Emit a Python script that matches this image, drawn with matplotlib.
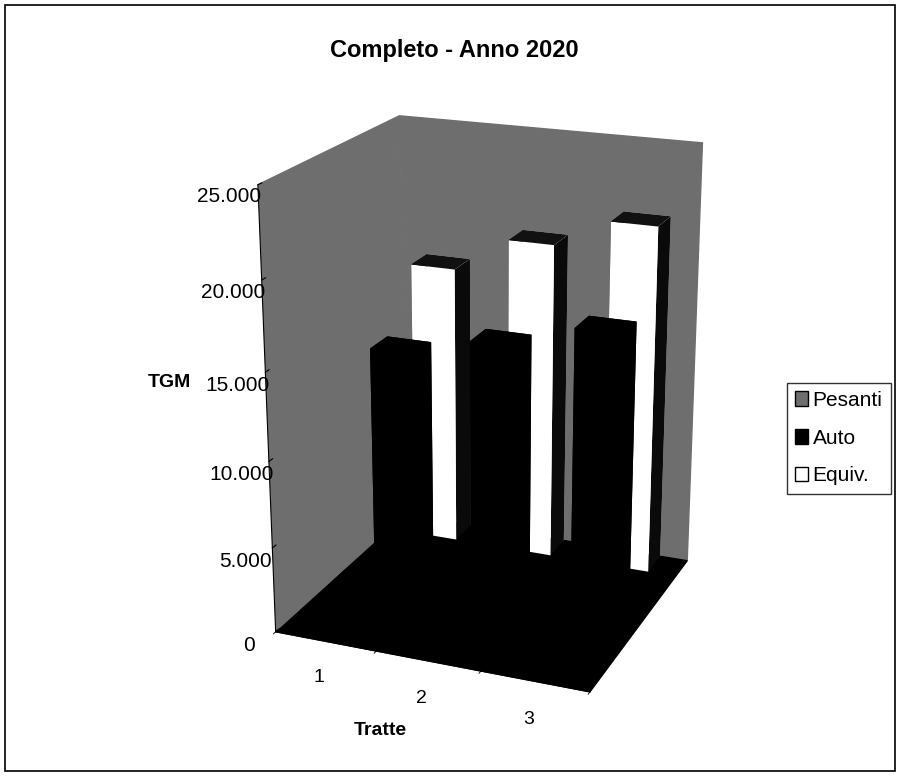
import matplotlib
matplotlib.use("Agg")
import matplotlib.pyplot as plt
import numpy as np
from matplotlib.patches import Rectangle, Patch
from matplotlib.ticker import FuncFormatter

categories = ["1", "2", "3"]
series = ["Pesanti", "Auto", "Equiv."]
pesanti = [1700, 2100, 2200]
auto = [13600, 14800, 16300]
equiv = [16900, 19000, 20700]
yticks = [0, 5000, 10000, 15000, 20000, 25000]

wall_color = "#6e6e6e"
plt.rcParams['font.family'] = ['Liberation Sans', 'DejaVu Sans']

fig = plt.figure(figsize=(9, 7.76), dpi=100)
ax = fig.add_axes([0.184, 0.05, 0.70, 0.88], projection='3d')
ax.set_proj_type('persp', focal_length=0.6)
ax.view_init(elev=20, azim=-68)
ax.set_box_aspect((1.0, 0.95, 1.38), zoom=1.0)

values = [pesanti, auto, equiv]
bwx, bwy = 0.45, 0.4
face_sets = {
    "Pesanti": ["#000000"] * 6,
    "Auto": ["#000000"] * 6,
    "Equiv.": ["#000000", "#111111", "#ffffff", "#ffffff", "#000000", "#0a0a0a"],
}
for si, (name, vals) in enumerate(zip(series, values)):
    for ci, v in enumerate(vals):
        ax.bar3d(ci + 0.5 - bwx / 2, si + 0.8 - bwy / 2, 0, bwx, bwy, v,
                 color=face_sets[name], shade=False, edgecolor='none')

ax.set_xlim(0, 3)
ax.set_ylim(0, 3)
ax.set_zlim(0, 25000)
ax.set_xticks([0.5, 1.5, 2.5])
ax.set_xticklabels(categories)
ax.set_xticks([0, 1, 2, 3], minor=True)
ax.tick_params(axis='x', which='major', labelsize=14, color=(0, 0, 0, 0), pad=4)
ax.tick_params(axis='x', which='minor', color='black')
ax.set_yticks([])
ax.set_zticks(yticks)
ax.zaxis.set_major_formatter(FuncFormatter(lambda v, p: f"{v:,.0f}".replace(",", ".")))
ax.tick_params(axis='z', labelsize=15, pad=6)
ax.zaxis.set_ticks_position('lower')
ax.zaxis._axinfo['tick']['inward_factor'] = 0.0
ax.zaxis._axinfo['tick']['outward_factor'] = 0.3
ax.grid(False)
ax.xaxis.set_pane_color(wall_color)
ax.yaxis.set_pane_color(wall_color)
ax.zaxis.set_pane_color("#000000")
for a in (ax.xaxis, ax.yaxis, ax.zaxis):
    a.line.set_color("black")
ax.yaxis.line.set_color((0, 0, 0, 0))
ax.set_xlabel("")
ax.set_ylabel("")
ax.set_zlabel("")

fig.text(0.505, 0.935, "Completo - Anno 2020", ha='center', va='center',
         fontsize=17, fontweight='bold')
fig.text(0.188, 0.507, "TGM", ha='center', va='center', fontsize=14, fontweight='bold')
fig.text(0.423, 0.058, "Tratte", ha='center', va='center', fontsize=14, fontweight='bold')

handles = [Patch(facecolor=wall_color, edgecolor='black', label="Pesanti"),
           Patch(facecolor="#000000", edgecolor='black', label="Auto"),
           Patch(facecolor="#ffffff", edgecolor='black', label="Equiv.")]
leg = fig.legend(handles=handles, loc='upper left', bbox_to_anchor=(0.874, 0.507),
                 frameon=True, fontsize=15, handlelength=0.65, handleheight=0.7,
                 handletextpad=0.2, borderpad=0.4, labelspacing=0.9, fancybox=False,
                 borderaxespad=0)
leg.get_frame().set_edgecolor('black')
leg.get_frame().set_linewidth(1.0)

fig.patches.append(Rectangle((0.006, 0.006), 0.988, 0.988, transform=fig.transFigure,
                             fill=False, edgecolor='black', linewidth=1.2))

fig.savefig("out.png", dpi=100)
